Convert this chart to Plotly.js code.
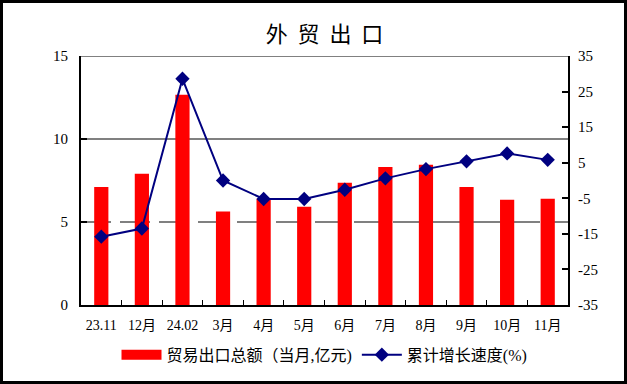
<!DOCTYPE html>
<html><head><meta charset="utf-8">
<script src="https://cdn.plot.ly/plotly-3.0.1.min.js"></script>
<style>
html,body{margin:0;padding:0;background:#fff;}
#chart{position:absolute;left:0;top:0;width:627px;height:384px;}
#frame{position:absolute;left:0;top:0;width:627px;height:384px;box-sizing:border-box;border:3px solid #000;pointer-events:none;z-index:10;}
</style></head>
<body><div id="chart"></div><div id="frame"></div>
<script>
const categories = ["23.11","12月","24.02","3月","4月","5月","6月","7月","8月","9月","10月","11月"];
const exportValues = [7.11, 7.91, 12.67, 5.64, 6.40, 5.92, 7.37, 8.31, 8.45, 7.11, 6.34, 6.40];
const growthValues = [-15.8, -13.5, 28.6, 0.0, -5.2, -5.2, -2.6, 0.6, 3.2, 5.4, 7.6, 5.8];
const leftTicks = [0, 5, 10, 15];
const rightTicks = [-35, -25, -15, -5, 5, 15, 25, 35];
const rightTickText = ["-35", "-25", "-15", "-5", "5", "15", "25", "35"];
const barName = "贸易出口总额（当月,亿元)";
const lineName = "累计增长速度(%)";
const titleText = "外  贸  出  口";

const serif = "Liberation Serif, Times New Roman, serif";
const cjk = "Liberation Serif, Noto Sans CJK SC, serif";

const traces = [
  {type:"bar", x:categories, y:exportValues, name:barName, marker:{color:"#FF0000"}, width:0.35, yaxis:"y", showlegend:false},
  {type:"scatter", mode:"lines", x:[null], y:[null], name:barName, yaxis:"y",
   line:{color:"#FF0000", width:11}, showlegend:true},
  {type:"scatter", mode:"lines+markers", x:categories, y:growthValues, name:lineName, yaxis:"y2",
   line:{color:"#000080", width:2}, marker:{symbol:"diamond", size:11, color:"#000080"}}
];

const layout = {
  width:627, height:384,
  margin:{l:81, r:59, t:56, b:77},
  paper_bgcolor:"#fff", plot_bgcolor:"#fff",
  title:{text:titleText, font:{family:"Noto Sans CJK SC, sans-serif", size:22, color:"#000"}, xref:"paper", x:0.5, xanchor:"center", y:0.91, yanchor:"middle"},
  showlegend:true,
  legend:{orientation:"h", x:0.5, xanchor:"center", y:-0.2, yanchor:"middle", font:{family:cjk, size:16, color:"#000"}, itemwidth:40, traceorder:"normal"},
  xaxis:{type:"category", range:[-0.5, 11.5], showgrid:false, showline:true, linecolor:"#000", linewidth:2,
         ticks:"inside", tickson:"boundaries", ticklen:5, tickwidth:1, tickcolor:"#000", tickangle:0,
         ticklabelstandoff:6, tickfont:{family:cjk, size:14, color:"#000"}, fixedrange:true},
  yaxis:{range:[0,15], tickvals:leftTicks, showgrid:false, zeroline:false, showline:true, linecolor:"#000", linewidth:2,
         ticks:"inside", ticklen:6, tickwidth:2, tickcolor:"#000", ticklabelstandoff:8,
         tickfont:{family:serif, size:15, color:"#000"}},
  yaxis2:{range:[-35,35], tickvals:rightTicks, ticktext:rightTickText, overlaying:"y", side:"right", showgrid:false, zeroline:false, showline:true,
          linecolor:"#000", linewidth:2, ticks:"inside", ticklen:6, tickwidth:2, tickcolor:"#000", ticklabelstandoff:5,
          tickfont:{family:serif, size:15, color:"#000"}},
  shapes:[
    {type:"line", xref:"paper", yref:"y", x0:0, x1:1, y0:5, y1:5, layer:"below", line:{color:"#808080", width:2, dash:"30px,9px"}},
    {type:"line", xref:"paper", yref:"y", x0:0, x1:1, y0:10, y1:10, layer:"below", line:{color:"#808080", width:2}},
    {type:"line", xref:"paper", yref:"y", x0:0, x1:1, y0:15, y1:15, layer:"below", line:{color:"#808080", width:2}}
  ]
};
Plotly.newPlot("chart", traces, layout, {staticPlot:true});
</script></body></html>
